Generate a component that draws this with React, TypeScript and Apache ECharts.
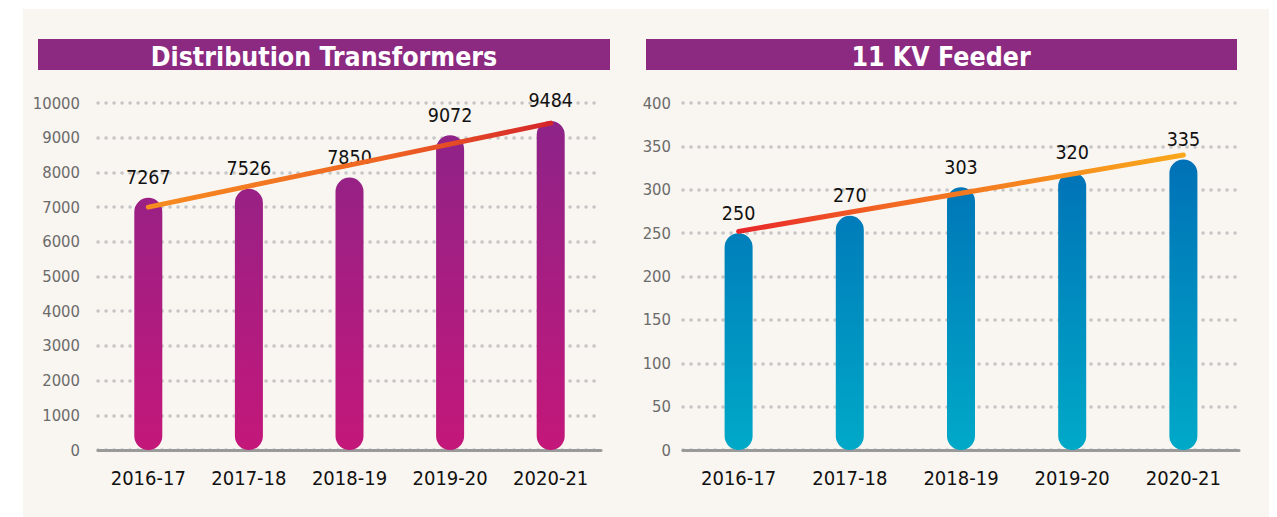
import React, { useEffect, useRef } from "react";
import * as echarts from "echarts";

const categories = ["2016-17", "2017-18", "2018-19", "2019-20", "2020-21"];
const transformerValues = [7267, 7526, 7850, 9072, 9484];
const transformerTrend = [7000, 7605, 8210, 8815, 9420];
const feederValues = [250, 270, 303, 320, 335];
const feederTrend = [252, 274, 296, 318, 340];
const leftTitle = "Distribution Transformers";
const rightTitle = "11 KV Feeder";

const FONT = "'Liberation Sans Narrow', 'DejaVu Sans Condensed', 'Roboto', sans-serif";

export default function App() {
  const ref = useRef<HTMLDivElement>(null);
  useEffect(() => {
    if (!ref.current) return;
    const chart = echarts.init(ref.current, undefined, { renderer: "svg" });
    const G = echarts.graphic.LinearGradient;
    const splitLine = {
      show: true,
      lineStyle: { color: "#c6c6c6", width: 3.5, type: [0.1, 7.9], cap: "round" },
    };
    const yLabel = {
      color: "#6b6b6b",
      fontSize: 16.5,
      fontFamily: FONT,
      formatter: (v: number) => String(v),
    };
    const xAxisCommon = {
      type: "category",
      data: categories,
      axisLine: { show: true, lineStyle: { color: "#9a9a9a", width: 3 } },
      axisTick: { show: false },
      splitLine: { show: false },
      axisLabel: { color: "#111", fontSize: 20, fontFamily: FONT, margin: 18, interval: 0 },
    };
    const valueLabel = {
      show: true,
      position: "top",
      distance: 10,
      color: "#111",
      fontSize: 19.5,
      fontFamily: FONT,
    };
    const titleStyle = {
      fill: "#ffffff",
      fontSize: 26.5,
      fontWeight: "bold",
      fontFamily: FONT,
      align: "center",
      verticalAlign: "middle",
    };
    chart.setOption({
      animation: false,
      backgroundColor: "#ffffff",
      graphic: [
        { type: "rect", z: -10, shape: { x: 23, y: 9, width: 1246, height: 508 }, style: { fill: "#f9f5f0" } },
        { type: "rect", shape: { x: 38, y: 39, width: 572, height: 31 }, style: { fill: "#8b2a80" } },
        { type: "rect", shape: { x: 646, y: 39, width: 591, height: 31 }, style: { fill: "#8b2a80" } },
        { type: "text", x: 324, y: 56, style: { ...titleStyle, text: leftTitle } },
        { type: "text", x: 941, y: 56, style: { ...titleStyle, text: rightTitle } },
      ],
      grid: [
        { left: 98, top: 103, width: 503, height: 347, containLabel: false },
        { left: 683, top: 103, width: 556, height: 347, containLabel: false },
      ],
      xAxis: [
        { ...xAxisCommon, gridIndex: 0 },
        { ...xAxisCommon, gridIndex: 1 },
      ],
      yAxis: [
        {
          type: "value",
          gridIndex: 0,
          min: 0,
          max: 10000,
          interval: 1000,
          axisLine: { show: false },
          axisTick: { show: false },
          axisLabel: { ...yLabel, margin: 18 },
          splitLine,
        },
        {
          type: "value",
          gridIndex: 1,
          min: 0,
          max: 400,
          interval: 50,
          axisLine: { show: false },
          axisTick: { show: false },
          axisLabel: { ...yLabel, margin: 12 },
          splitLine,
        },
      ],
      series: [
        {
          type: "bar",
          xAxisIndex: 0,
          yAxisIndex: 0,
          data: transformerValues,
          barWidth: 28,
          itemStyle: {
            borderRadius: 14,
            color: new G(0, 103, 0, 450, [
              { offset: 0, color: "#8a2489" },
              { offset: 1, color: "#c4177a" },
            ], true),
          },
          label: valueLabel,
          z: 2,
        },
        {
          type: "line",
          xAxisIndex: 0,
          yAxisIndex: 0,
          data: transformerTrend,
          symbol: "none",
          silent: true,
          lineStyle: {
            width: 5,
            cap: "round",
            color: new G(148, 0, 550, 0, [
              { offset: 0, color: "#f78c1f" },
              { offset: 0.6, color: "#ee6323" },
              { offset: 1, color: "#d5262a" },
            ], true),
          },
          z: 5,
        },
        {
          type: "bar",
          xAxisIndex: 1,
          yAxisIndex: 1,
          data: feederValues,
          barWidth: 28,
          itemStyle: {
            borderRadius: 14,
            color: new G(0, 103, 0, 450, [
              { offset: 0, color: "#0066b3" },
              { offset: 1, color: "#00a9c8" },
            ], true),
          },
          label: valueLabel,
          z: 2,
        },
        {
          type: "line",
          xAxisIndex: 1,
          yAxisIndex: 1,
          data: feederTrend,
          symbol: "none",
          silent: true,
          lineStyle: {
            width: 5,
            cap: "round",
            color: new G(739, 0, 1184, 0, [
              { offset: 0, color: "#e8262a" },
              { offset: 0.35, color: "#f26a22" },
              { offset: 1, color: "#f9a81b" },
            ], true),
          },
          z: 5,
        },
      ],
    });
    return () => chart.dispose();
  }, []);
  return (
    <div
      ref={ref}
      style={{ position: "absolute", left: 0, top: 0, width: 1277, height: 517 }}
    />
  );
}
